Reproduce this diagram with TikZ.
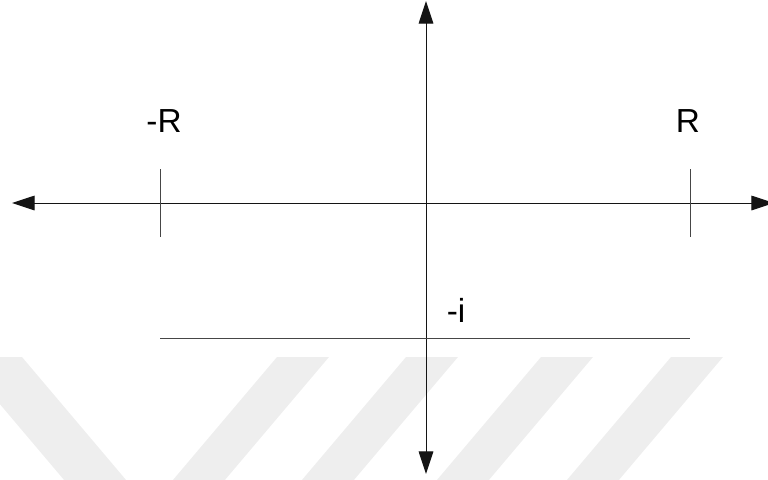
\documentclass[tikz,border=0pt]{standalone}
\usepackage{fontspec}
\setmainfont{Liberation Sans}
\usepackage{xcolor}
\usepackage{tikz}
\usetikzlibrary{arrows.meta}
\definecolor{GrisEje}{RGB}{20,20,20}
\definecolor{GrisMarca}{RGB}{70,70,70}
\definecolor{GrisFondo}{RGB}{238,238,238}

\begin{document}
\begin{tikzpicture}[x=0.75pt,y=-0.75pt,>={Triangle[length=17pt,width=11pt]},
  eje/.style={draw=GrisEje,line width=0.75pt},
  marca/.style={draw=GrisMarca,line width=0.75pt},
  etiqueta/.style={font=\fontsize{25}{28}\selectfont,anchor=base,inner sep=0pt}]
  \useasboundingbox (0,0) rectangle (768,479);

  % Franjas claras del fondo
  \fill[GrisFondo] (-40,357) -- (22,357) -- (132,487) -- (70,487) -- cycle;
  \foreach \xf in {277,406,541,671}
    \fill[GrisFondo] (\xf,357) -- ++(52,0) -- ++(-110,130) -- ++(-52,0) -- cycle;

  % Ejes
  \coordinate (Izq) at (12,203);
  \coordinate (Der) at (774,203);
  \coordinate (Arr) at (426,1);
  \coordinate (Aba) at (426,474);
  \draw[eje,<->] (Izq) -- (Der);
  \draw[eje,<->] (Arr) -- (Aba);

  % Marcas en -R y R
  \coordinate (MenosRArr) at (160,169);
  \coordinate (MenosRAba) at (160,237);
  \coordinate (MasRArr) at (690,169);
  \coordinate (MasRAba) at (690,237);
  \draw[marca] (MenosRArr) -- (MenosRAba);
  \draw[marca] (MasRArr) -- (MasRAba);
  \node[etiqueta] (menosR) at (164,132) {-R};
  \node[etiqueta] (masR) at (688,132) {R};

  % Recta Im z = -1
  \coordinate (LinIzq) at (160,338);
  \coordinate (LinDer) at (690,338);
  \draw[marca] (LinIzq) -- (LinDer);
  \node[etiqueta] (menosI) at (456,322) {-i};
\end{tikzpicture}
\end{document}
